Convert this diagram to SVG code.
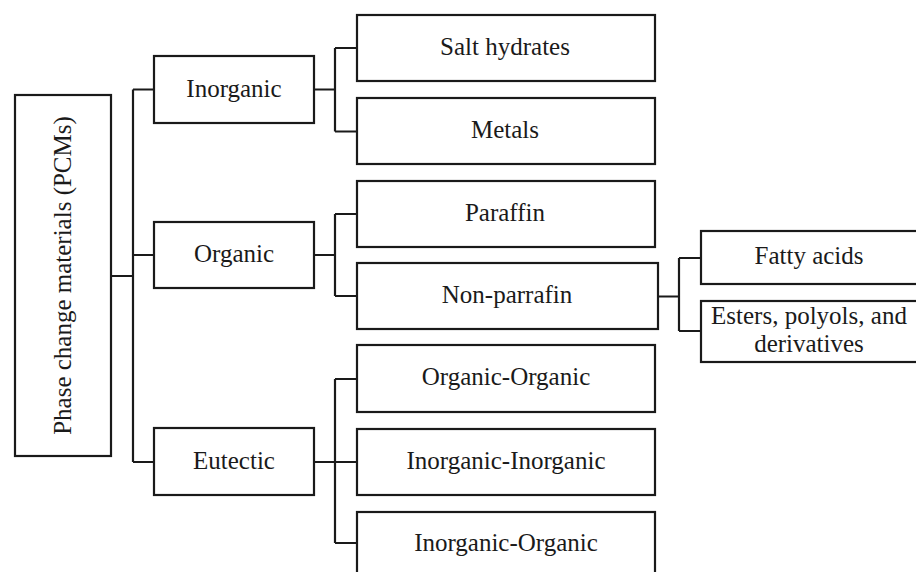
<svg xmlns="http://www.w3.org/2000/svg" width="916" height="572" viewBox="0 0 916 572" font-family="'Liberation Serif', 'DejaVu Serif', serif">
<style>
.box{fill:#fff;stroke:#1a1a1a;stroke-width:2.2}
text{font-family:"Liberation Serif","DejaVu Serif",serif;font-size:25px;fill:#1a1a1a;text-anchor:middle}
.c{fill:none;stroke:#1a1a1a;stroke-width:2.2}
</style>
<rect width="916" height="572" fill="#fff"/>
<g id="connectors">
<path class="c" d="M111 276H133M133 89.5V462M133 89.5H154M133 255H154M133 462H154"/>
<path class="c" d="M314 89.5H335M335 48V131.5M335 48H357M335 131.5H357"/>
<path class="c" d="M314 255H335M335 214V296M335 214H357M335 296H357"/>
<path class="c" d="M314 462H357M335 379V543M335 379H357M335 543H357"/>
<path class="c" d="M658 296.5H679M679 258V331M679 258H701M679 331H701"/>
</g>
<g id="root">
<rect class="box" x="15" y="95" width="96" height="361"/>
<text font-family="Liberation Serif, serif" transform="translate(71 275.5) rotate(-90)">Phase change materials (PCMs)</text>
</g>
<g id="inorganic">
<rect class="box" x="154" y="56" width="160" height="67"/>
<text font-family="Liberation Serif, serif" x="234" y="97">Inorganic</text>
</g>
<g id="organic">
<rect class="box" x="154" y="222" width="160" height="66"/>
<text font-family="Liberation Serif, serif" x="234" y="262">Organic</text>
</g>
<g id="eutectic">
<rect class="box" x="154" y="428" width="160" height="67"/>
<text font-family="Liberation Serif, serif" x="234" y="468.5">Eutectic</text>
</g>
<g id="salt-hydrates">
<rect class="box" x="357" y="15" width="298" height="66"/>
<text font-family="Liberation Serif, serif" x="505" y="55">Salt hydrates</text>
</g>
<g id="metals">
<rect class="box" x="357" y="98" width="298" height="66"/>
<text font-family="Liberation Serif, serif" x="505" y="138">Metals</text>
</g>
<g id="paraffin">
<rect class="box" x="357" y="181" width="298" height="66"/>
<text font-family="Liberation Serif, serif" x="505" y="221">Paraffin</text>
</g>
<g id="non-parrafin">
<rect class="box" x="357" y="263" width="301" height="66"/>
<text font-family="Liberation Serif, serif" x="507" y="303">Non-parrafin</text>
</g>
<g id="fatty-acids">
<rect class="box" x="701" y="231" width="217" height="53"/>
<text font-family="Liberation Serif, serif" x="809" y="264">Fatty acids</text>
</g>
<g id="esters">
<rect class="box" x="701" y="301" width="217" height="61"/>
<text font-family="Liberation Serif, serif" x="809" y="324">Esters, polyols, and</text>
<text font-family="Liberation Serif, serif" x="809" y="352">derivatives</text>
</g>
<g id="organic-organic">
<rect class="box" x="357" y="345" width="298" height="67"/>
<text font-family="Liberation Serif, serif" x="506" y="385">Organic-Organic</text>
</g>
<g id="inorganic-inorganic">
<rect class="box" x="357" y="429" width="298" height="66"/>
<text font-family="Liberation Serif, serif" x="506" y="469">Inorganic-Inorganic</text>
</g>
<g id="inorganic-organic">
<rect class="box" x="357" y="512" width="298" height="66"/>
<text font-family="Liberation Serif, serif" x="506" y="551">Inorganic-Organic</text>
</g>
</svg>
